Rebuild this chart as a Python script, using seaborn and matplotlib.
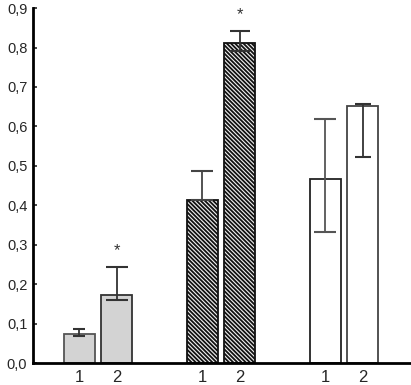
import matplotlib
matplotlib.use("Agg")
import matplotlib.pyplot as plt
import seaborn as sns
import pandas as pd

groups = ["A", "A", "B", "B", "C", "C"]
subs = ["1", "2", "1", "2", "1", "2"]
values = [0.074, 0.173, 0.414, 0.812, 0.467, 0.652]
err_upper = [0.086, 0.244, 0.487, 0.843, 0.619, 0.656]
err_lower = [0.068, 0.160, 0.414, 0.790, 0.332, 0.523]
stars = ["", "*", "", "*", "", ""]
yticks = [0.0, 0.1, 0.2, 0.3, 0.4, 0.5, 0.6, 0.7, 0.8, 0.9]
ytick_labels = ["0,0", "0,1", "0,2", "0,3", "0,4", "0,5", "0,6", "0,7", "0,8", "0,9"]

df = pd.DataFrame({"group": groups, "sub": subs, "value": values})

sns.set_style("white")
plt.rcParams["font.family"] = ["Liberation Sans", "DejaVu Sans"]
plt.rcParams["hatch.linewidth"] = 1.3
plt.rcParams["hatch.color"] = "black"

fig = plt.figure(figsize=(4.11, 3.85), dpi=100)
ax = fig.add_axes([0.080, 0.057, 0.920, 0.922])

sns.barplot(data=df, x="group", y="value", hue="sub", width=0.61, gap=0.174,
            palette=["#d3d3d3", "#d3d3d3"], errorbar=None, legend=False, ax=ax)

patches = sorted(ax.patches, key=lambda p: p.get_x())
styles = [
    dict(fc="#d3d3d3", ec="#555555", hatch=None),
    dict(fc="#d3d3d3", ec="#333333", hatch=None),
    dict(fc="#f0f0f0", ec="#111111", hatch="\\" * 8),
    dict(fc="#f0f0f0", ec="#111111", hatch="\\" * 8),
    dict(fc="white", ec="#222222", hatch=None),
    dict(fc="white", ec="#444444", hatch=None),
]
ecolors = ["#333333", "#333333", "#444444", "#333333", "#555555", "#333333"]
caps = [6, 11, 11, 10, 11, 8]
centers = []
for i, p in enumerate(patches):
    st = styles[i]
    p.set_facecolor(st["fc"])
    p.set_edgecolor(st["ec"])
    p.set_linewidth(1.3)
    if st["hatch"]:
        p.set_hatch(st["hatch"])
    cx = p.get_x() + p.get_width() / 2
    centers.append(cx)
    v = values[i]
    lo = v - err_lower[i]
    hi = err_upper[i] - v
    ax.errorbar([cx], [v], yerr=[[lo], [hi]], fmt="none", ecolor=ecolors[i],
                elinewidth=1.3, capsize=caps[i] * 0.72, capthick=1.5, zorder=5)
    if stars[i]:
        ax.text(cx, err_upper[i] + 0.022, stars[i], ha="center", va="bottom",
                fontsize=12, color="#333333")

ax.set_xticks(centers)
ax.set_xticklabels(subs, fontsize=12)
ax.set_xlim(-0.528, 2.545)
ax.set_ylim(0, 0.9)
ax.set_yticks(yticks)
ax.set_yticklabels(ytick_labels, fontsize=10.5)
ax.set_xlabel("")
ax.set_ylabel("")
ax.tick_params(axis="x", length=0, pad=5)
ax.tick_params(axis="y", direction="in", length=3, width=1.2, left=True, pad=4)
for s in ["top", "right"]:
    ax.spines[s].set_visible(False)
for s in ["left", "bottom"]:
    ax.spines[s].set_linewidth(2)
    ax.spines[s].set_color("black")

fig.savefig("out.png", dpi=100)
